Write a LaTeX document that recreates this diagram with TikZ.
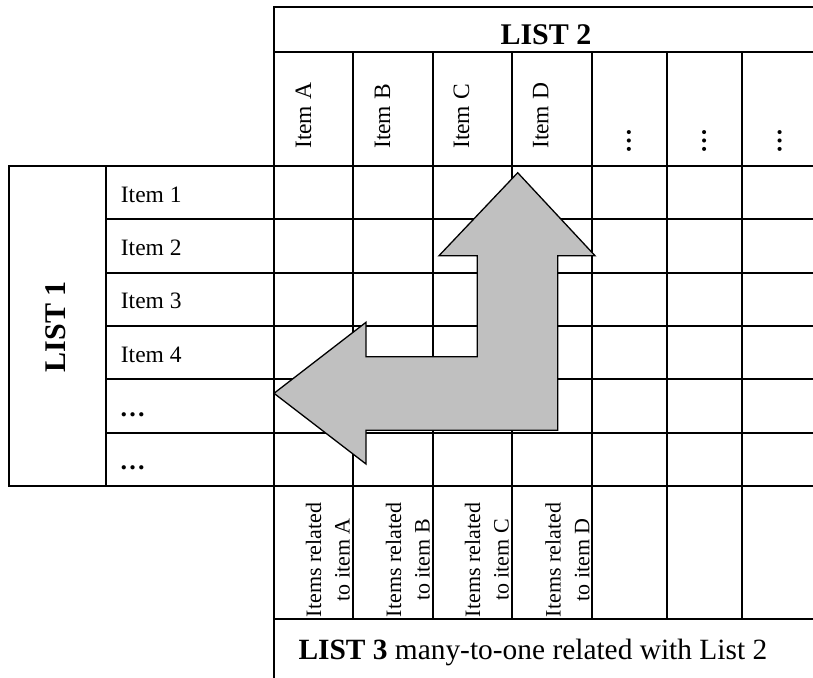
\documentclass[tikz,border=0pt]{standalone}
\usepackage{fontspec}
\setmainfont{Liberation Serif}
\definecolor{arrowgray}{RGB}{192,192,192}
\begin{document}
\begin{tikzpicture}[x=1pt,y=-1pt,
  tbl/.style={line width=2pt, line cap=rect},
  itemtxt/.style={font=\fontsize{23.5}{28}\selectfont, inner sep=0},
  headtxt/.style={font=\fontsize{30}{36}\selectfont\bfseries, inner sep=0},
  dotstxt/.style={font=\fontsize{25}{30}\selectfont\bfseries, inner sep=0, rotate=90, anchor=center},
  rowdots/.style={font=\fontsize{26}{30}\selectfont\bfseries, inner sep=0, anchor=base west},
  reltxt/.style={font=\fontsize{22}{28}\selectfont, inner sep=0, rotate=90, anchor=base},
  bigarrow/.style={fill=arrowgray, draw=black, line width=1.3pt, line join=miter}]
\fill[white] (0,0) rectangle (813,677);
\useasboundingbox (0,0) rectangle (813,677);
% table lines
\draw[tbl] (274,677) -- (274,6.7) -- (813,6.7);
\draw[tbl] (274,52.3) -- (813,52.3);
\draw[tbl] (9.3,165.7) -- (813,165.7);
\draw[tbl] (9.3,485.7) -- (813,485.7);
\draw[tbl] (9.3,165.7) -- (9.3,485.7);
\draw[tbl] (106,165.7) -- (106,485.7);
\foreach \y in {219,272.7,326,379.3,432.7} \draw[tbl] (106,\y) -- (813,\y);
\draw[tbl] (274,619.3) -- (813,619.3);
\foreach \x in {352.7,432.7,511.7,592.3,667.3,742} \draw[tbl] (\x,52.3) -- (\x,619.3);
% headings
\node[headtxt, anchor=base] (list2) at (546,45) {LIST 2};
\node[headtxt, anchor=base, rotate=90] (list1) at (65,326.7) {LIST 1};
% list 2 items
\node[itemtxt, anchor=base west, rotate=90] (iA) at (311,149) {Item A};
\node[itemtxt, anchor=base west, rotate=90] (iB) at (390,149) {Item B};
\node[itemtxt, anchor=base west, rotate=90] (iC) at (469,149) {Item C};
\node[itemtxt, anchor=base west, rotate=90] (iD) at (548.3,149) {Item D};
\node[dotstxt] (d5) at (629,140.8) {…};
\node[dotstxt] (d6) at (704.3,140.8) {…};
\node[dotstxt] (d7) at (779.7,140.8) {…};
% list 1 items
\node[itemtxt, anchor=base west] (i1) at (120.7,202.3) {Item 1};
\node[itemtxt, anchor=base west] (i2) at (120.7,255.7) {Item 2};
\node[itemtxt, anchor=base west] (i3) at (120.7,308.3) {Item 3};
\node[itemtxt, anchor=base west] (i4) at (120.7,362.3) {Item 4};
\node[rowdots] (i5) at (119.5,416.7) {…};
\node[rowdots] (i6) at (119.5,469.3) {…};
% list 3
\node[reltxt] (rA1) at (321.1,560) {Items related};
\node[reltxt] (rA2) at (349.7,560) {to item A};
\node[reltxt] (rB1) at (401.1,560) {Items related};
\node[reltxt] (rB2) at (429.7,560) {to item B};
\node[reltxt] (rC1) at (480.1,560) {Items related};
\node[reltxt] (rC2) at (508.7,560) {to item C};
\node[reltxt] (rD1) at (560.7,560) {Items related};
\node[reltxt] (rD2) at (589.3,560) {to item D};
\node[font=\fontsize{29.4}{34}\selectfont, inner sep=0, anchor=base west] (list3) at (298.3,659.3) {\textbf{LIST 3} many-to-one related with List 2};
% arrow
\draw[bigarrow] (517.7,172.7) -- (595,255.7) -- (557.7,255.7) -- (557.7,430.3)
  -- (366,430.3) -- (366,464) -- (274,393.3) -- (366,322.3) -- (366,356.7)
  -- (477.3,356.7) -- (477.3,255.7) -- (439,255.7) -- cycle;
\end{tikzpicture}
\end{document}
